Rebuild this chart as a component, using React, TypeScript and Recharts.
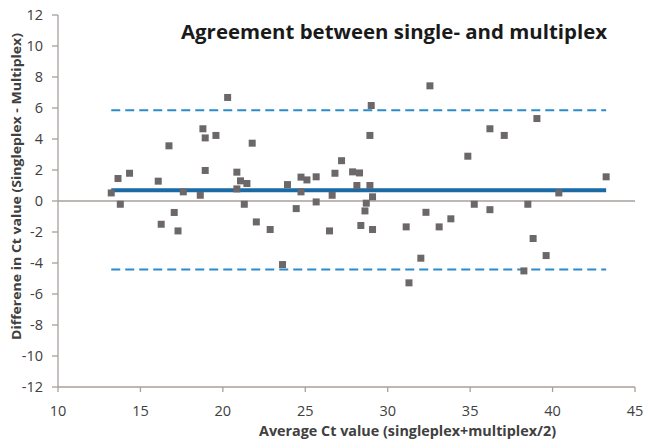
import { ScatterChart, Scatter, XAxis, YAxis, ReferenceLine } from 'recharts'

// average Ct of singleplex and multiplex
const avgCt = [
    13.23, 13.64, 13.78, 14.34, 16.08, 16.26, 16.73, 17.05, 17.28, 17.6,
    18.63, 18.79, 18.93, 18.93, 19.58, 20.29, 20.85, 20.85, 21.07, 21.3,
    21.46, 21.78, 22.03, 22.87, 23.62, 23.92, 24.45, 24.74, 24.74, 25.1,
    25.66, 25.66, 26.47, 26.63, 26.8, 27.2, 27.87, 28.13, 28.29, 28.37,
    28.62, 28.7, 28.92, 28.92, 29.0, 29.08, 29.08, 31.12, 31.29, 32.01,
    32.32, 32.56, 33.12, 33.83, 34.86, 35.25, 36.2, 36.2, 37.07, 38.26,
    38.5, 38.82, 39.05, 39.61, 40.38, 43.25,
]

// singleplex - multiplex
const diffCt = [
    0.52, 1.45, -0.21, 1.79, 1.28, -1.5, 3.56, -0.74, -1.93, 0.59,
    0.37, 4.66, 4.07, 1.97, 4.23, 6.68, 1.86, 0.78, 1.3, -0.21,
    1.13, 3.73, -1.35, -1.84, -4.1, 1.06, -0.49, 1.54, 0.59, 1.36,
    1.56, -0.06, -1.93, 0.37, 1.79, 2.6, 1.88, 1.0, 1.81, -1.58,
    -0.64, -0.14, 1.0, 4.23, 6.16, 0.27, -1.84, -1.67, -5.28, -3.69,
    -0.73, 7.43, -1.67, -1.15, 2.89, -0.21, 4.66, -0.56, 4.23, -4.51,
    -0.21, -2.42, 5.32, -3.52, 0.52, 1.56,
]

const meanDiff = 0.7
const upperLimit = 5.86
const lowerLimit = -4.42

const xTicks = [10, 15, 20, 25, 30, 35, 40, 45]
const yTicks = [-12, -10, -8, -6, -4, -2, 0, 2, 4, 6, 8, 10, 12]

const points = avgCt.map((x, i) => ({ x, y: diffCt[i] }))
const xMin = Math.min(...avgCt)
const xMax = Math.max(...avgCt)

const axisGray = '#a8a09c'
const font = '"Open Sans", "Liberation Sans", sans-serif'

const Square = (props: any) => {
    const { cx, cy } = props
    return <rect x={cx - 3.5} y={cy - 3.5} width={7} height={7} fill="#6c6869" />
}

const XTick = ({ x, y, payload }: any) => (
    <text x={x} y={y} dy={10.5} textAnchor="middle" fontSize={14.5} fill="#404040" fontFamily={font}>
        {payload.value}
    </text>
)

const YTick = ({ x, y, payload }: any) => (
    <text x={x} y={y} dy={5} textAnchor="end" fontSize={14.5} fill="#404040" fontFamily={font}>
        {payload.value}
    </text>
)

export default function App() {
    return (
        <div style={{ position: 'absolute', left: 0, top: 0, width: 645, height: 440, background: '#fff' }}>
            <ScatterChart width={645} height={440} margin={{ top: 15, right: 10, bottom: 0, left: 0 }}>
                <XAxis
                    type="number"
                    dataKey="x"
                    domain={[10, 45]}
                    ticks={xTicks}
                    interval={0}
                    height={53}
                    tickSize={5}
                    tickMargin={13}
                    stroke={axisGray}
                    strokeWidth={1.3}
                    tick={<XTick />}
                />
                <YAxis
                    type="number"
                    dataKey="y"
                    domain={[-12, 12]}
                    ticks={yTicks}
                    interval={0}
                    width={58}
                    tickSize={6}
                    tickMargin={9}
                    stroke={axisGray}
                    strokeWidth={1.3}
                    tick={<YTick />}
                />
                <ReferenceLine y={0} stroke={axisGray} strokeWidth={1.3} />
                <ReferenceLine
                    segment={[{ x: xMin, y: upperLimit }, { x: xMax, y: upperLimit }]}
                    stroke="#2b8bcb"
                    strokeWidth={2}
                    strokeDasharray="9 5"
                />
                <ReferenceLine
                    segment={[{ x: xMin, y: lowerLimit }, { x: xMax, y: lowerLimit }]}
                    stroke="#2b8bcb"
                    strokeWidth={2}
                    strokeDasharray="9 5"
                />
                <ReferenceLine
                    segment={[{ x: xMin, y: meanDiff }, { x: xMax, y: meanDiff }]}
                    stroke="#1a6aa6"
                    strokeWidth={4}
                />
                <Scatter data={points} shape={<Square />} isAnimationActive={false} />
            </ScatterChart>
            <svg width={645} height={440} style={{ position: 'absolute', left: 0, top: 0, pointerEvents: 'none' }}>
                <text x={181} y={39} fontSize={20} fontWeight={700} fill="#1a1a1a" fontFamily={font}
                    textLength={426} lengthAdjust="spacingAndGlyphs">
                    Agreement between single- and multiplex
                </text>
                <text x={259} y={435.5} fontSize={14} fontWeight={700} fill="#404040" fontFamily={font}
                    textLength={297} lengthAdjust="spacingAndGlyphs">
                    Average Ct value (singleplex+multiplex/2)
                </text>
                <text transform="translate(20.5, 186.5) rotate(-90)" textAnchor="middle" fontSize={13} fontWeight={700}
                    fill="#404040" fontFamily={font} textLength={307} lengthAdjust="spacingAndGlyphs">
                    Differene in Ct value (Singleplex - Multiplex)
                </text>
            </svg>
        </div>
    )
}
